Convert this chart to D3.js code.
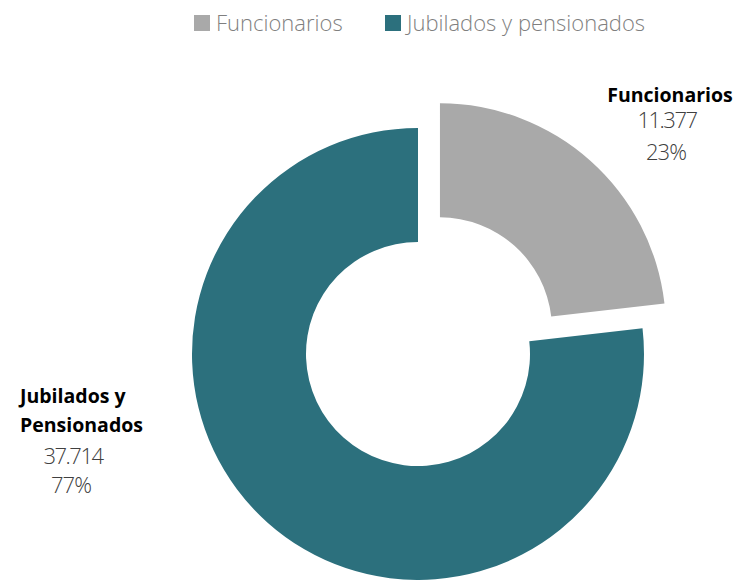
<!DOCTYPE html>
<html>
<head>
<meta charset="utf-8">
<script src="https://cdn.jsdelivr.net/npm/d3@7"></script>
<style>
  body { margin: 0; background: #fff; }
  text { font-family: "Open Sans", "Noto Sans", sans-serif; }
</style>
</head>
<body>
<div id="chart"></div>
<script>
// data
const categories = ["Funcionarios", "Jubilados y pensionados"];
const labelNames = [["Funcionarios"], ["Jubilados y", "Pensionados"]];
const values = [11377, 37714];
const valueLabels = ["11.377", "37.714"];
const percentLabels = ["23%", "77%"];
const colors = ["#a9a9a9", "#2c707d"];

const width = 740;
const height = 580;
const cx = 418, cy = 354;
const outerR = 226, innerR = 112;
const explode = 33;

let svg = d3.select("#chart")
    .append("svg")
    .attr("width", width)
    .attr("height", height);

let pie = d3.pie().sort(null).value(d => d);
let arc = d3.arc().innerRadius(innerR).outerRadius(outerR);
let arcs = pie(values);

let g = svg.append("g").attr("transform", "translate(" + cx + "," + cy + ")");

g.selectAll("path")
    .data(arcs)
    .enter()
    .append("path")
    .attr("d", arc)
    .attr("fill", (d, i) => colors[i])
    .attr("transform", (d, i) => {
        if (i !== 0) return null;
        let mid = (d.startAngle + d.endAngle) / 2;
        return "translate(" + (Math.sin(mid) * explode) + "," + (-Math.cos(mid) * explode) + ")";
    });

// slice labels
let labelPos = [
    { nameX: 670, anchor: "middle", name: 102, valX: 667, value: 128, pctX: 666, pct: 160 },
    { nameX: 20, anchor: "start", name: 403, valX: 73, value: 464, pctX: 71, pct: 493 }
];

labelPos.forEach((p, i) => {
    labelNames[i].forEach((line, j) => {
        svg.append("text")
            .attr("x", p.nameX)
            .attr("y", p.name + j * 29)
            .attr("text-anchor", p.anchor)
            .attr("font-size", "19.5px")
            .attr("font-weight", "bold")
            .attr("fill", "#000")
            .text(line);
    });
    svg.append("text")
        .attr("x", p.valX)
        .attr("y", p.value)
        .attr("text-anchor", "middle")
        .attr("font-size", "22px")
        .attr("font-weight", 300)
        .attr("letter-spacing", "-1.5px")
        .attr("fill", "#404040")
        .text(valueLabels[i]);
    svg.append("text")
        .attr("x", p.pctX)
        .attr("y", p.pct)
        .attr("text-anchor", "middle")
        .attr("font-size", "22px")
        .attr("font-weight", 300)
        .attr("letter-spacing", "-1px")
        .attr("fill", "#404040")
        .text(percentLabels[i]);
});

// legend
let legendX = [194, 385];
let legend = svg.selectAll(".legend")
    .data(categories)
    .enter()
    .append("g")
    .attr("class", "legend")
    .attr("transform", (d, i) => "translate(" + legendX[i] + ",0)");

legend.append("rect")
    .attr("x", 0)
    .attr("y", 15)
    .attr("width", 16)
    .attr("height", 16)
    .attr("fill", (d, i) => colors[i]);

legend.append("text")
    .attr("x", 22)
    .attr("y", 31)
    .attr("font-size", "22px")
    .attr("font-weight", 300)
    .attr("fill", "#7f7f7f")
    .text(d => d);
</script>
</body>
</html>
